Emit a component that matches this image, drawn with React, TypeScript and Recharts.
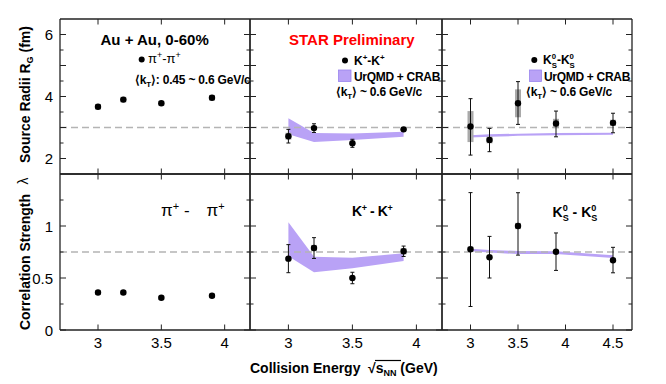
import React from 'react'
import {
  ComposedChart,
  XAxis,
  YAxis,
  Scatter,
  Area,
  ErrorBar,
  ReferenceLine,
} from 'recharts'

const W = 666
const H = 384
const FONT = '"Liberation Sans", Arial, Helvetica, sans-serif'
const FRAME = '#222'
const BAND = '#b9a2f6'
const SYS = '#a9a9a9'

// collision energy sqrt(s_NN), GeV
const piEnergy = [3.0, 3.2, 3.5, 3.9]
const kEnergy = [3.0, 3.2, 3.5, 3.9]
const k0Energy = [3.0, 3.2, 3.5, 3.9, 4.5]

// source radii R_G (fm)
const piRadius = [3.67, 3.9, 3.78, 3.96]
const piRadiusStat = [0.02, 0.02, 0.02, 0.02]
const piRadiusSys = [0.09, 0.09, 0.08, 0.09]

const kRadius = [2.72, 2.98, 2.49, 2.94]
const kRadiusStat = [0.22, 0.14, 0.13, 0.05]
const kRadiusSys = [0.11, 0.05, 0.05, 0.05]
const kRadiusModelLo = [2.78, 2.53, 2.6, 2.7]
const kRadiusModelHi = [3.3, 2.82, 2.81, 2.86]

const k0Radius = [3.03, 2.6, 3.78, 3.13, 3.15]
const k0RadiusStatLo = [0.92, 0.38, 0.68, 0.43, 0.32]
const k0RadiusStatHi = [0.9, 0.37, 0.7, 0.4, 0.31]
const k0RadiusSys = [0.5, 0.11, 0.45, 0.15, 0.1]
const k0RadiusModelLo = [2.68, 2.7, 2.73, 2.75, 2.77]
const k0RadiusModelHi = [2.75, 2.78, 2.8, 2.82, 2.83]

// correlation strength lambda
const piLambda = [0.36, 0.36, 0.31, 0.33]
const piLambdaStat = [0.005, 0.005, 0.005, 0.005]
const piLambdaSys = [0.02, 0.02, 0.02, 0.02]

const kLambda = [0.686, 0.788, 0.5, 0.757]
const kLambdaStat = [0.135, 0.1, 0.055, 0.05]
const kLambdaSys = [0.015, 0.03, 0.01, 0.03]
const kLambdaModelLo = [0.71, 0.555, 0.593, 0.663]
const kLambdaModelHi = [1.035, 0.705, 0.695, 0.737]

const k0Lambda = [0.776, 0.7, 1.0, 0.753, 0.67]
const k0LambdaStatLo = [0.55, 0.2, 0.28, 0.18, 0.12]
const k0LambdaStatHi = [0.545, 0.2, 0.32, 0.18, 0.125]
const k0LambdaSys = [0.025, 0.01, 0.03, 0.01, 0.01]
const k0LambdaModelLo = [0.757, 0.745, 0.73, 0.73, 0.692]
const k0LambdaModelHi = [0.782, 0.77, 0.76, 0.757, 0.718]

// axes
const xTicksShort = [3, 3.5, 4]
const xTicksLong = [3, 3.5, 4, 4.5]
const radiusTicks = [2, 2.5, 3, 3.5, 4, 4.5, 5, 5.5, 6]
const radiusLabels = [2, 4, 6]
const lambdaTicks = [0, 0.25, 0.5, 0.75, 1, 1.25]
const lambdaLabels = [0, 0.5, 1]

type Row = {
  x: number
  v: number
  stat: number | number[]
  sys: number
  band?: number[]
}

const rows = (
  xs: number[],
  vs: number[],
  statLo: number[],
  statHi: number[],
  sys: number[],
  lo?: number[],
  hi?: number[],
): Row[] =>
  xs.map((x, i) => ({
    x,
    v: vs[i],
    stat: [statLo[i], statHi[i]],
    sys: sys[i],
    band: lo && hi ? [lo[i], hi[i]] : undefined,
  }))

type Side = 'left' | 'right' | 'top' | 'bottom'

const near = (a: number, b: number) => Math.abs(a - b) < 1e-6

const makeTick = (side: Side, major: number, labels: number[] = []) =>
  function Tick(props: any) {
    const { x, y, payload } = props
    const v = payload.value as number
    const isMajor = near(v / major, Math.round(v / major))
    const len = side === 'top' || side === 'bottom' ? 5.5 : isMajor ? 6 : 3.5
    let x2 = x
    let y2 = y
    if (side === 'left') x2 = x + len
    if (side === 'right') x2 = x - len
    if (side === 'top') y2 = y + len
    if (side === 'bottom') y2 = y - len
    const show = labels.some((l) => near(l, v))
    return (
      <g>
        <line x1={x} y1={y} x2={x2} y2={y2} stroke={FRAME} strokeWidth={1} />
        {show && side === 'left' && (
          <text x={x - 7} y={y + 5.5} textAnchor="end" fontSize={15} fontFamily={FONT} fill="#000">
            {String(v)}
          </text>
        )}
        {show && side === 'bottom' && (
          <text x={x} y={y + 18} textAnchor="middle" fontSize={15} fontFamily={FONT} fill="#000">
            {String(v)}
          </text>
        )}
      </g>
    )
  }

const Dot = (p: any) => <circle cx={p.cx} cy={p.cy} r={3.2} fill="#000" />

type PanelProps = {
  box: [number, number, number, number]
  data: Row[]
  xDomain: [number, number]
  xTicks: number[]
  yDomain: [number, number]
  yTicks: number[]
  yMajor: number
  yLabels: number[]
  xLabels: boolean
  refY: number
  band: boolean
}

function Panel({ box, data, xDomain, xTicks, yDomain, yTicks, yMajor, yLabels, xLabels, refY, band }: PanelProps) {
  const [L, T, R, B] = box
  const axisLine = { stroke: FRAME, strokeWidth: 1.3 }
  const common = { tickSize: 0, tickMargin: 0, tickLine: false, interval: 0 as const, allowDataOverflow: true, axisLine }
  // every axis is 1px thick, so the margins give 1px back
  return (
    <div style={{ position: 'absolute', left: 0, top: 0 }}>
      <ComposedChart width={W} height={H} data={data}
        margin={{ top: T - 1, left: L - 1, right: W - R - 1, bottom: H - B - 1 }}>
        <XAxis xAxisId="b" type="number" dataKey="x" domain={xDomain} ticks={xTicks} height={1} {...common}
          tick={makeTick('bottom', 0.5, xLabels ? xTicks : [])} />
        <XAxis xAxisId="t" orientation="top" type="number" dataKey="x" domain={xDomain} ticks={xTicks} height={1} {...common}
          tick={makeTick('top', 0.5)} />
        <YAxis yAxisId="l" type="number" domain={yDomain} ticks={yTicks} width={1} {...common}
          tick={makeTick('left', yMajor, yLabels)} />
        <YAxis yAxisId="r" orientation="right" type="number" domain={yDomain} ticks={yTicks} width={1} {...common}
          tick={makeTick('right', yMajor)} />
        <ReferenceLine xAxisId="b" yAxisId="l" y={refY} stroke="#b4b4b4" strokeWidth={1.3} strokeDasharray="7 4" />
        {band && (
          <Area xAxisId="b" yAxisId="l" type="linear" dataKey="band" stroke="none" fill={BAND}
            fillOpacity={1} isAnimationActive={false} />
        )}
        <Scatter xAxisId="b" yAxisId="l" data={data} dataKey="v" shape={Dot} isAnimationActive={false}>
          <ErrorBar dataKey="sys" direction="y" width={0} stroke={SYS} strokeWidth={6} isAnimationActive={false} />
          <ErrorBar dataKey="stat" direction="y" width={2} stroke="#111" strokeWidth={1} isAnimationActive={false} />
        </Scatter>
      </ComposedChart>
    </div>
  )
}

const ks0 = (fs: number) => [
  <tspan key="k">K</tspan>,
  <tspan key="0" dy={-0.42 * fs} fontSize={fs * 0.65}>0</tspan>,
  <tspan key="s" dx={-fs * 0.65 * 0.556} dy={0.75 * fs} fontSize={fs * 0.65}>S</tspan>,
]

export default function App() {
  const radiusAxis = { yDomain: [1.5, 6.5] as [number, number], yTicks: radiusTicks, yMajor: 1, refY: 3, xLabels: false }
  const lambdaAxis = { yDomain: [0, 1.5] as [number, number], yTicks: lambdaTicks, yMajor: 0.5, refY: 0.75, xLabels: true }
  const shortX = { xDomain: [2.7, 4.2] as [number, number], xTicks: xTicksShort }
  const longX = { xDomain: [2.7, 4.7] as [number, number], xTicks: xTicksLong }

  return (
    <div style={{ position: 'absolute', left: 0, top: 0, width: W, height: H, background: '#fff', fontFamily: FONT }}>
      <Panel box={[60, 19, 250, 174]} data={rows(piEnergy, piRadius, piRadiusStat, piRadiusStat, piRadiusSys)}
        {...shortX} {...radiusAxis} yLabels={radiusLabels} band={false} />
      <Panel box={[250, 19, 442, 174]}
        data={rows(kEnergy, kRadius, kRadiusStat, kRadiusStat, kRadiusSys, kRadiusModelLo, kRadiusModelHi)}
        {...shortX} {...radiusAxis} yLabels={[]} band />
      <Panel box={[442, 19, 632, 174]}
        data={rows(k0Energy, k0Radius, k0RadiusStatLo, k0RadiusStatHi, k0RadiusSys, k0RadiusModelLo, k0RadiusModelHi)}
        {...longX} {...radiusAxis} yLabels={[]} band />
      <Panel box={[60, 174, 250, 330]} data={rows(piEnergy, piLambda, piLambdaStat, piLambdaStat, piLambdaSys)}
        {...shortX} {...lambdaAxis} yLabels={lambdaLabels} band={false} />
      <Panel box={[250, 174, 442, 330]}
        data={rows(kEnergy, kLambda, kLambdaStat, kLambdaStat, kLambdaSys, kLambdaModelLo, kLambdaModelHi)}
        {...shortX} {...lambdaAxis} yLabels={[]} band />
      <Panel box={[442, 174, 632, 330]}
        data={rows(k0Energy, k0Lambda, k0LambdaStatLo, k0LambdaStatHi, k0LambdaSys, k0LambdaModelLo, k0LambdaModelHi)}
        {...longX} {...lambdaAxis} yLabels={[]} band />

      <svg width={W} height={H} style={{ position: 'absolute', left: 0, top: 0 }} fontFamily={FONT}>
        {/* panel 1 */}
        <text x={100.5} y={45} fontSize={15} fontWeight="bold">Au + Au, 0-60%</text>
        <circle cx={141.7} cy={59.5} r={3} fill="#000" />
        <text x={148} y={63} fontSize={13}>
          π<tspan dy={-5} fontSize={9}>+</tspan><tspan dy={5}>-π</tspan><tspan dy={-5} fontSize={9}>+</tspan>
        </text>
        <text x={135} y={84} fontSize={12} fontWeight="bold" letterSpacing={-0.2}>
          ⟨k<tspan dy={3} fontSize={8}>T</tspan><tspan dy={-3}>⟩: 0.45 ~ 0.6 GeV/c</tspan>
        </text>

        {/* panel 2 */}
        <text x={289} y={44.5} fontSize={15} fontWeight="bold" fill="#f00">STAR Preliminary</text>
        <circle cx={345} cy={60.5} r={3} fill="#000" />
        <text x={354} y={65} fontSize={12} fontWeight="bold">
          K<tspan dy={-5} fontSize={8}>+</tspan><tspan dy={5}>-K</tspan><tspan dy={-5} fontSize={8}>+</tspan>
        </text>
        <rect x={338.5} y={70} width={12.5} height={11.5} fill={BAND} stroke="#9a84ee" strokeWidth={0.8} />
        <text x={354} y={81} fontSize={12} fontWeight="bold" letterSpacing={-0.3}>UrQMD + CRAB</text>
        <text x={336} y={96} fontSize={12} fontWeight="bold" letterSpacing={-0.2}>
          ⟨k<tspan dy={3} fontSize={8}>T</tspan><tspan dy={-3}>⟩ ~ 0.6 GeV/c</tspan>
        </text>

        {/* panel 3 */}
        <circle cx={534.3} cy={60} r={3} fill="#000" />
        <text x={543} y={64} fontSize={12} fontWeight="bold">
          {ks0(12)}
          <tspan dy={-0.33 * 12}>-</tspan>
          <tspan>K</tspan>
          <tspan dy={-0.42 * 12} fontSize={7.8}>0</tspan>
          <tspan dx={-7.8 * 0.556} dy={0.75 * 12} fontSize={7.8}>S</tspan>
        </text>
        <rect x={529.5} y={70} width={12} height={11.5} fill={BAND} stroke="#9a84ee" strokeWidth={0.8} />
        <text x={544} y={81} fontSize={12} fontWeight="bold" letterSpacing={-0.3}>UrQMD + CRAB</text>
        <text x={526} y={96} fontSize={12} fontWeight="bold" letterSpacing={-0.2}>
          ⟨k<tspan dy={3} fontSize={8}>T</tspan><tspan dy={-3}>⟩ ~ 0.6 GeV/c</tspan>
        </text>

        {/* lower panels */}
        <text x={161} y={216} fontSize={17}>
          π<tspan dy={-6} fontSize={11}>+</tspan><tspan dy={6}> -</tspan>
        </text>
        <text x={206.5} y={216} fontSize={17}>
          π<tspan dy={-6} fontSize={11}>+</tspan>
        </text>
        <text x={352} y={216} fontSize={14} fontWeight="bold" letterSpacing={-0.4}>
          K<tspan dy={-5.5} fontSize={9}>+</tspan><tspan dy={5.5}> - K</tspan><tspan dy={-5.5} fontSize={9}>+</tspan>
        </text>
        <text x={552.5} y={216.5} fontSize={14} fontWeight="bold">
          {ks0(14)}
          <tspan dy={-0.33 * 14}> - </tspan>
          <tspan>K</tspan>
          <tspan dy={-0.42 * 14} fontSize={9.1}>0</tspan>
          <tspan dx={-9.1 * 0.556} dy={0.75 * 14} fontSize={9.1}>S</tspan>
        </text>

        {/* x title */}
        <text x={250} y={372.5} fontSize={14} fontWeight="bold">Collision Energy</text>
        <text x={368} y={372.5} fontSize={14} fontWeight="bold">
          √<tspan>s</tspan><tspan dy={3} fontSize={9}>NN</tspan><tspan dy={-3}> (GeV)</tspan>
        </text>
        <line x1={375} y1={360.5} x2={401} y2={360.5} stroke="#000" strokeWidth={1.2} />

        {/* y title */}
        <text transform="translate(29.5,262) rotate(-90)" textAnchor="middle" fontSize={14} fontWeight="bold">
          Correlation Strength
        </text>
        <text transform="translate(27.5,181) rotate(-90)" textAnchor="middle" fontSize={14}>λ</text>
        <text transform="translate(29.5,94.5) rotate(-90)" textAnchor="middle" fontSize={14} fontWeight="bold">
          Source Radii R<tspan dy={3} fontSize={9}>G</tspan><tspan dy={-3}> (fm)</tspan>
        </text>
      </svg>
    </div>
  )
}
